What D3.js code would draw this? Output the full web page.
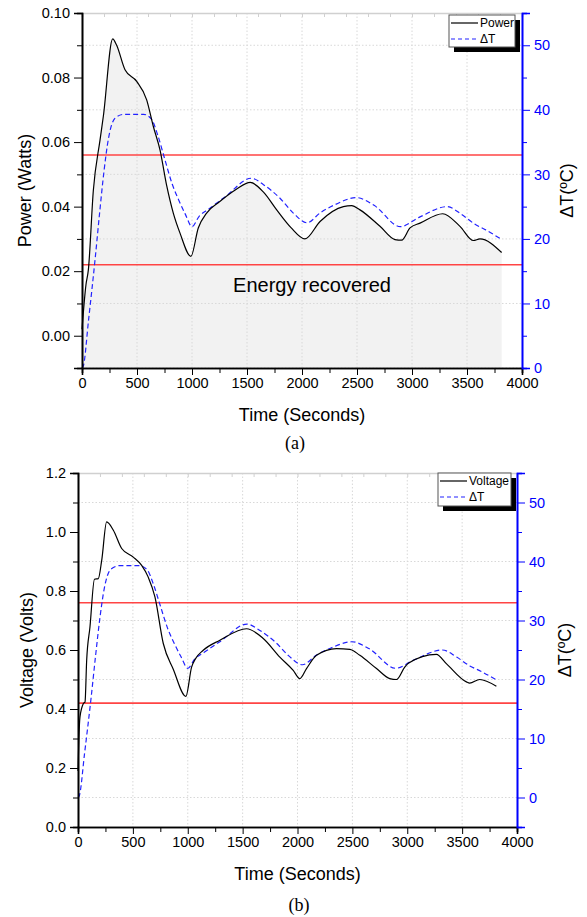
<!DOCTYPE html>
<html>
<head>
<meta charset="utf-8">
<script src="https://cdn.jsdelivr.net/npm/d3@7"></script>
<style>
  body { margin: 0; background: #fff; }
  svg { font-family: "Liberation Sans", Arial, sans-serif; }
  .grid line { stroke: #d8d8d8; stroke-dasharray: 1.5,2; }
  .tick text { font-size: 14.5px; }
</style>
</head>
<body>
<svg width="587" height="917"></svg>
<script>
/* global d3 */

// time axis (seconds) for each series
var timePower = [0, 36, 58, 103, 164, 194, 279, 315, 391, 497, 588, 648, 709, 770, 830, 891, 990, 1057, 1133, 1250, 1400, 1530, 1650, 1770, 1900, 2027, 2164, 2376, 2452, 2527, 2709, 2845, 2906, 2982, 3073, 3279, 3436, 3558, 3618, 3815];
var power = [0.002, 0.0158, 0.0205, 0.045, 0.0607, 0.068, 0.092, 0.090, 0.0824, 0.0788, 0.0731, 0.0649, 0.0576, 0.0465, 0.038, 0.0318, 0.0246, 0.0334, 0.038, 0.0415, 0.0453, 0.0475, 0.0445, 0.039, 0.0335, 0.030, 0.0354, 0.040, 0.0403, 0.039, 0.0339, 0.0298, 0.0296, 0.0334, 0.0349, 0.0378, 0.0339, 0.0295, 0.030, 0.0258];

var timeVoltage = [0, 8, 18, 48, 64, 79, 109, 150, 185, 216, 261, 322, 398, 504, 580, 640, 701, 777, 868, 983, 1035, 1070, 1141, 1293, 1536, 1688, 1839, 1961, 2021, 2082, 2173, 2355, 2477, 2568, 2720, 2841, 2902, 2977, 3010, 3265, 3356, 3539, 3569, 3660, 3812];
var voltage = [0.19, 0.3, 0.373, 0.418, 0.424, 0.565, 0.678, 0.84, 0.842, 0.904, 1.034, 1.006, 0.944, 0.915, 0.887, 0.847, 0.780, 0.622, 0.535, 0.443, 0.542, 0.57, 0.599, 0.633, 0.672, 0.639, 0.576, 0.531, 0.503, 0.537, 0.582, 0.605, 0.602, 0.582, 0.537, 0.503, 0.50, 0.542, 0.555, 0.585, 0.554, 0.492, 0.488, 0.50, 0.477];

var timeDT = [0, 12, 60, 120, 160, 200, 240, 300, 380, 560, 630, 690, 750, 820, 880, 940, 1000, 1065, 1150, 1300, 1540, 1650, 1800, 1921, 2045, 2170, 2300, 2495, 2655, 2895, 3060, 3320, 3450, 3570, 3670, 3815];
var deltaT = [0, 0.3, 7.5, 17, 24, 30.5, 35.5, 38.7, 39.3, 39.3, 38.6, 36, 32.5, 28.5, 26, 23.8, 21.9, 23.5, 24.6, 26.5, 29.4, 28.4, 26.3, 24, 22.5, 24.1, 25.3, 26.4, 25.2, 21.9, 23.3, 25.0, 23.8, 22.3, 21.4, 19.9];

// horizontal red reference lines, in deg C
var refLinesDT = [33, 16];

var xTicks = [0, 500, 1000, 1500, 2000, 2500, 3000, 3500, 4000];

var svg = d3.select("svg");

function drawPanel(cfg) {
  var g = svg.append("g");
  var x = d3.scaleLinear().domain([0, 4000]).range([cfg.left, cfg.right]);
  var y = d3.scaleLinear().domain(cfg.yDomain).range([cfg.bottom, cfg.top]);
  var y2 = d3.scaleLinear().domain(cfg.y2Domain).range([cfg.bottom, cfg.top]);

  var pts = cfg.time.map(function(t, i) { return { t: t, v: cfg.values[i] }; });
  var dtPts = timeDT.map(function(t, i) { return { t: t, v: deltaT[i] }; });

  if (cfg.fill) {
    g.append("path")
      .datum(pts)
      .attr("fill", "#f2f2f2")
      .attr("d", d3.area()
        .curve(d3.curveMonotoneX)
        .x(function(d) { return x(d.t); })
        .y0(cfg.bottom)
        .y1(function(d) { return y(d.v); }));
  }

  // grid
  g.append("g").attr("class", "grid")
    .selectAll("line")
    .data(xTicks.slice(1, -1))
    .enter().append("line")
    .attr("x1", function(d) { return x(d); })
    .attr("x2", function(d) { return x(d); })
    .attr("y1", cfg.top)
    .attr("y2", cfg.bottom);

  g.append("g").attr("class", "grid")
    .selectAll("line")
    .data(d3.range(0, 51, 10))
    .enter().append("line")
    .attr("x1", cfg.left)
    .attr("x2", cfg.right)
    .attr("y1", function(d) { return y2(d); })
    .attr("y2", function(d) { return y2(d); });

  // top frame in light gray
  g.append("g")
    .attr("transform", "translate(0," + cfg.top + ")")
    .call(d3.axisTop(x).ticks(16).tickSize(-4).tickFormat(""))
    .call(function(a) {
      a.selectAll("line, path").attr("stroke", "#d0d0d0");
    });

  if (cfg.label) {
    g.append("text")
      .attr("x", 312)
      .attr("y", cfg.labelY)
      .attr("text-anchor", "middle")
      .style("font-size", "20px")
      .text(cfg.label);
  }

  g.selectAll("line.ref")
    .data(refLinesDT)
    .enter().append("line")
    .attr("class", "ref")
    .attr("x1", cfg.left)
    .attr("x2", cfg.right)
    .attr("y1", function(d) { return y2(d); })
    .attr("y2", function(d) { return y2(d); })
    .attr("stroke", "#f44")
    .attr("stroke-width", 1.6);

  g.append("path")
    .datum(dtPts)
    .attr("fill", "none")
    .attr("stroke", "#2222ff")
    .attr("stroke-width", 1.2)
    .attr("stroke-dasharray", "5,3")
    .attr("d", d3.line()
      .curve(d3.curveMonotoneX)
      .x(function(d) { return x(d.t); })
      .y(function(d) { return y2(d.v); }));

  g.append("path")
    .datum(pts)
    .attr("fill", "none")
    .attr("stroke", "#000")
    .attr("stroke-width", 1.2)
    .attr("d", d3.line()
      .curve(d3.curveMonotoneX)
      .x(function(d) { return x(d.t); })
      .y(function(d) { return y(d.v); }));

  // axes
  g.append("g")
    .attr("transform", "translate(0," + cfg.bottom + ")")
    .call(d3.axisBottom(x).tickValues(xTicks).tickSize(7).tickPadding(3).tickFormat(d3.format("d")));
  g.append("g")
    .attr("transform", "translate(0," + cfg.bottom + ")")
    .call(d3.axisBottom(x).tickValues(d3.range(250, 4000, 500)).tickSize(5).tickFormat(""));

  g.append("g")
    .attr("transform", "translate(" + cfg.left + ",0)")
    .call(d3.axisLeft(y).tickValues(cfg.yTicks).tickSize(8).tickPadding(4).tickFormat(d3.format(cfg.yFormat)));
  g.append("g")
    .attr("transform", "translate(" + cfg.left + ",0)")
    .call(d3.axisLeft(y).tickValues(cfg.yMinor).tickSize(5).tickFormat(""));

  var rAxis = g.append("g")
    .attr("transform", "translate(" + cfg.right + ",0)")
    .call(d3.axisRight(y2).tickValues(d3.range(0, 51, 10)).tickSize(8).tickPadding(4));
  var rMinor = g.append("g")
    .attr("transform", "translate(" + cfg.right + ",0)")
    .call(d3.axisRight(y2).tickValues(d3.range(5, 56, 10)).tickSize(5).tickFormat(""));

  g.selectAll(".domain").attr("stroke-width", 1.6);
  rAxis.selectAll("text").attr("fill", "#0000ff");
  rAxis.selectAll("line, path").attr("stroke", "#0000ff");
  rMinor.selectAll("line, path").attr("stroke", "#0000ff");

  // axis titles
  g.append("text")
    .attr("x", (cfg.left + cfg.right) / 2)
    .attr("y", cfg.bottom + 53)
    .attr("text-anchor", "middle")
    .style("font-size", "18px")
    .text("Time (Seconds)");

  g.append("text")
    .attr("transform", "translate(" + cfg.yLabelX + "," + (cfg.top + cfg.bottom) / 2 + ")rotate(-90)")
    .attr("text-anchor", "middle")
    .style("font-size", "18px")
    .text(cfg.yLabel);

  g.append("text")
    .attr("transform", "translate(" + cfg.y2LabelX + "," + (cfg.top + cfg.bottom) / 2 + ")rotate(-90)")
    .attr("text-anchor", "middle")
    .style("font-size", "18px")
    .text("\u0394T(\u00baC)");

  g.append("text")
    .attr("x", cfg.captionX)
    .attr("y", cfg.captionY)
    .attr("text-anchor", "middle")
    .style("font-family", "'Liberation Serif', 'Times New Roman', serif")
    .style("font-size", "18px")
    .text(cfg.caption);

  // Making the Legend
  var lg = cfg.legend;
  g.append("rect")
    .attr("x", lg.x + 5).attr("y", lg.y + 5)
    .attr("width", lg.w).attr("height", lg.h)
    .attr("fill", "#000");
  g.append("rect")
    .attr("x", lg.x).attr("y", lg.y)
    .attr("width", lg.w).attr("height", lg.h)
    .attr("fill", "#fff")
    .attr("stroke", "#555")
    .attr("stroke-width", 1);

  var entries = [
    { name: cfg.seriesName, color: "#000", dash: null },
    { name: "\u0394T", color: "#2222ff", dash: "4,3" }
  ];
  entries.forEach(function(e, i) {
    var yy = lg.y + 8 + i * 16;
    g.append("line")
      .attr("x1", lg.x + 2).attr("x2", lg.x + 29)
      .attr("y1", yy).attr("y2", yy)
      .attr("stroke", e.color)
      .attr("stroke-width", 1.2)
      .attr("stroke-dasharray", e.dash);
    g.append("text")
      .attr("x", lg.x + 31)
      .attr("y", yy + 4)
      .style("font-size", "12px")
      .text(e.name);
  });
}

drawPanel({
  left: 82, right: 522, top: 13, bottom: 368,
  yDomain: [-0.01, 0.10], yTicks: [0, 0.02, 0.04, 0.06, 0.08, 0.10],
  yMinor: [-0.01, 0.01, 0.03, 0.05, 0.07, 0.09], yFormat: ".2f",
  y2Domain: [0, 55],
  time: timePower, values: power, fill: true,
  label: "Energy recovered", labelY: 292,
  yLabel: "Power (Watts)", yLabelX: 31, y2LabelX: 573,
  seriesName: "Power",
  caption: "(a)", captionX: 295, captionY: 449,
  legend: { x: 449, y: 15, w: 66, h: 32 }
});

drawPanel({
  left: 78, right: 517, top: 473, bottom: 827,
  yDomain: [0, 1.2], yTicks: [0, 0.2, 0.4, 0.6, 0.8, 1.0, 1.2],
  yMinor: [0.1, 0.3, 0.5, 0.7, 0.9, 1.1], yFormat: ".1f",
  y2Domain: [-5, 55],
  time: timeVoltage, values: voltage, fill: false,
  yLabel: "Voltage (Volts)", yLabelX: 33, y2LabelX: 571,
  seriesName: "Voltage",
  caption: "(b)", captionX: 299, captionY: 911,
  legend: { x: 438, y: 473, w: 73, h: 33 }
});
</script>
</body>
</html>
